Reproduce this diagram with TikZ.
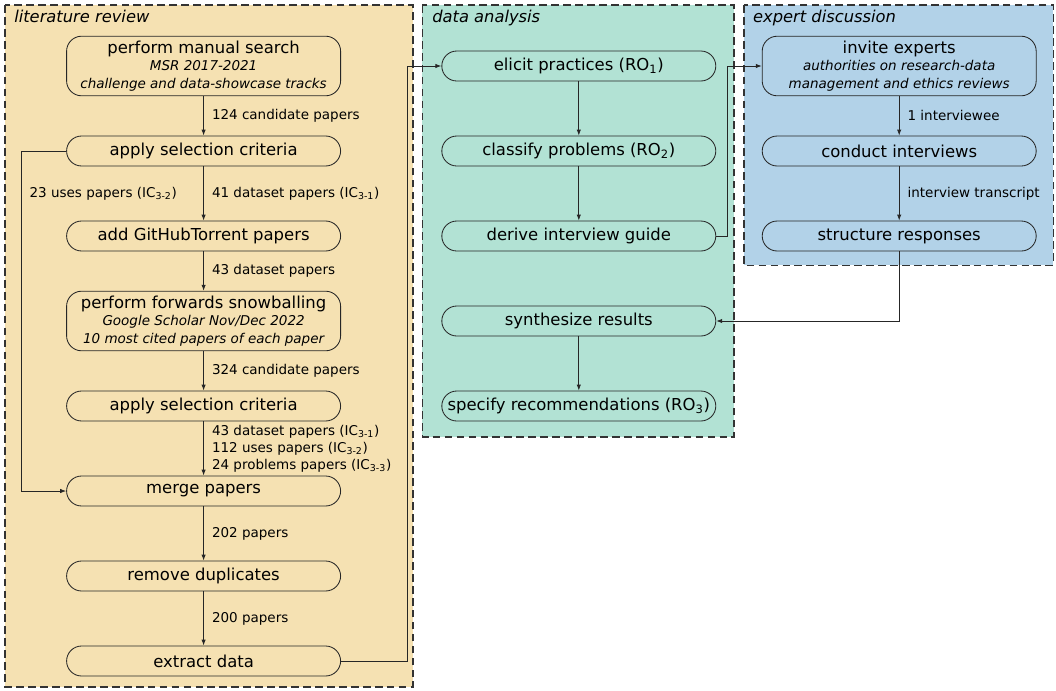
\documentclass[tikz,border=0pt]{standalone}
\usepackage{fontspec}
\setmainfont{DejaVu Sans}
\usetikzlibrary{arrows.meta}
\definecolor{litcol}{HTML}{F5E1B2}
\definecolor{anacol}{HTML}{B2E2D4}
\definecolor{expcol}{HTML}{B2D2E8}
\newcommand{\nodedetail}[1]{{\fontsize{9.6}{12}\selectfont\itshape #1}}
\begin{document}
\begin{tikzpicture}[y=-1cm]
  \tikzstyle{phase}=[draw=black!80,line width=1pt,dash pattern=on 5.5pt off 3pt]
  \tikzstyle{phasetitle}=[anchor=base west,inner sep=0pt,font=\fontsize{11.6}{14}\selectfont\itshape]
  \tikzstyle{activity}=[draw=black!85,line width=0.6pt,rounded corners=0.375cm,minimum width=6.85cm,minimum height=0.75cm,align=center,inner sep=1pt,font=\fontsize{11.7}{12.5}\selectfont]
  \tikzstyle{flow}=[-{Latex[length=1.5mm,width=1.1mm]},line width=0.6pt,black!85]
  \tikzstyle{count}=[right,inner sep=0pt,xshift=0.2cm,align=left,black,font=\fontsize{9.6}{12}\selectfont]
  \def\rowsep{2.125} % separation of rows
  \def\rowtop{1.65} % centre of first row
  \def\litx{5.09} % column literature review
  \def\anax{14.47} % column data analysis
  \def\expx{22.48} % column expert discussion
  \useasboundingbox (0,0) rectangle (26.4,17.25);
  % phases
  \draw[phase,fill=litcol] (0.125,0.125) rectangle (10.325,17.17);
  \draw[phase,fill=anacol] (10.56,0.125) rectangle (18.35,10.92);
  \draw[phase,fill=expcol] (18.6,0.125) rectangle (26.33,6.63);
  \node[phasetitle] (littitle) at (0.35,0.57) {literature review};
  \node[phasetitle] (anatitle) at (10.8,0.57) {data analysis};
  \node[phasetitle] (exptitle) at (18.82,0.57) {expert discussion};
  % literature review
  \node[activity,minimum height=1.49cm] (search) at (\litx,\rowtop) {perform manual search\\ \nodedetail{MSR 2017-2021}\\ \nodedetail{challenge and data-showcase tracks}};
  \node[activity] (select1) at (\litx,\rowtop+\rowsep) {apply selection criteria};
  \node[activity] (torrent) at (\litx,\rowtop+2*\rowsep) {add GitHubTorrent papers};
  \node[activity,minimum height=1.49cm] (snowball) at (\litx,\rowtop+3*\rowsep) {perform forwards snowballing\\ \nodedetail{Google Scholar Nov/Dec 2022}\\ \nodedetail{10 most cited papers of each paper}};
  \node[activity] (select2) at (\litx,\rowtop+4*\rowsep) {apply selection criteria};
  \node[activity] (merge) at (\litx,\rowtop+5*\rowsep) {merge papers};
  \node[activity] (dedup) at (\litx,\rowtop+6*\rowsep) {remove duplicates};
  \node[activity] (extract) at (\litx,\rowtop+7*\rowsep) {extract data};
  % data analysis
  \node[activity] (elicit) at (\anax,\rowtop) {elicit practices (RO\textsubscript{1})};
  \node[activity] (classify) at (\anax,\rowtop+\rowsep) {classify problems (RO\textsubscript{2})};
  \node[activity] (guide) at (\anax,\rowtop+2*\rowsep) {derive interview guide};
  \node[activity] (synth) at (\anax,\rowtop+3*\rowsep) {synthesize results};
  \node[activity] (recommend) at (\anax,\rowtop+4*\rowsep) {specify recommendations (RO\textsubscript{3})};
  % expert discussion
  \node[activity,minimum height=1.49cm] (invite) at (\expx,\rowtop) {invite experts\\ \nodedetail{authorities on research-data}\\ \nodedetail{management and ethics reviews}};
  \node[activity] (interview) at (\expx,\rowtop+\rowsep) {conduct interviews};
  \node[activity] (structure) at (\expx,\rowtop+2*\rowsep) {structure responses};
  % flows
  \draw[flow] (search) -- node[count] {124 candidate papers} (select1);
  \draw[flow] (select1) -- node[count] {41 dataset papers (IC\textsubscript{3-1})} (torrent);
  \draw[flow] (select1.west) -- ++(-1.125,0) |- node[count,pos=0.0625] {23 uses papers (IC\textsubscript{3-2})} (merge.west);
  \draw[flow] (torrent) -- node[count] {43 dataset papers} (snowball);
  \draw[flow] (snowball) -- node[count] {324 candidate papers} (select2);
  \draw[flow] (select2) -- node[count] {43 dataset papers (IC\textsubscript{3-1})\\ 112 uses papers (IC\textsubscript{3-2})\\ 24 problems papers (IC\textsubscript{3-3})} (merge);
  \draw[flow] (merge) -- node[count] {202 papers} (dedup);
  \draw[flow] (dedup) -- node[count] {200 papers} (extract);
  \draw[flow] (extract.east) -- ++(1.65,0) |- (elicit.west);
  \draw[flow] (elicit) -- (classify);
  \draw[flow] (classify) -- (guide);
  \draw[flow] (guide.east) -- ++(0.275,0) |- (invite.west);
  \draw[flow] (invite) -- node[count] {1 interviewee} (interview);
  \draw[flow] (interview) -- node[count] {interview transcript} (structure);
  \draw[flow] (structure.south) |- (synth.east);
  \draw[flow] (synth) -- (recommend);
\end{tikzpicture}
\end{document}
